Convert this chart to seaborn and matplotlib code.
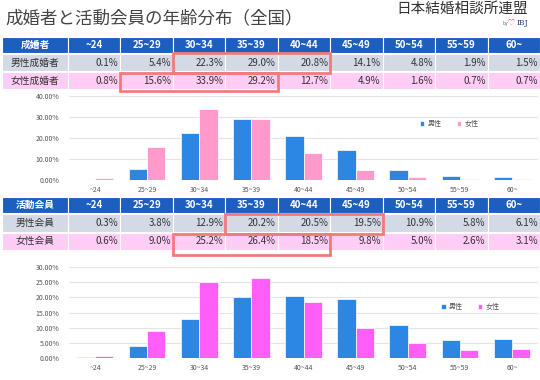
import numpy as np
import pandas as pd
import matplotlib
matplotlib.use("Agg")
import matplotlib.pyplot as plt
from matplotlib.patches import Rectangle
import seaborn as sns

# ============================================================
# DATA
# ============================================================
ages = ["~24", "25~29", "30~34", "35~39", "40~44", "45~49", "50~54", "55~59", "60~"]

marr_male = [0.1, 5.4, 22.3, 29.0, 20.8, 14.1, 4.8, 1.9, 1.5]
marr_female = [0.8, 15.6, 33.9, 29.2, 12.7, 4.9, 1.6, 0.7, 0.7]
act_male = [0.3, 3.8, 12.9, 20.2, 20.5, 19.5, 10.9, 5.8, 6.1]
act_female = [0.6, 9.0, 25.2, 26.4, 18.5, 9.8, 5.0, 2.6, 3.1]

title = "成婚者と活動会員の年齢分布（全国）"
sex_labels = ["男性", "女性"]

# ============================================================
# STYLE
# ============================================================
sns.set_theme(style="white")
plt.rcParams["font.family"] = ["Noto Sans CJK JP", "DejaVu Sans"]

BLUE = "#2b87e3"
PINK1 = "#ff9acb"
PINK2 = "#ff5ef7"
HEAD = "#1d5fbf"
ROW_M = "#d3dae6"
ROW_F = "#ffcdf6"
RED = "#f47a7a"
W, H = 540, 380

fig = plt.figure(figsize=(5.4, 3.8), dpi=100)
over = fig.add_axes([0, 0, 1, 1], zorder=5)
over.set_xlim(0, W)
over.set_ylim(H, 0)
over.axis("off")
over.patch.set_alpha(0)

over.text(5, 18, title, fontsize=12.6, color="#444444", va="center", ha="left")
over.text(528, 9, "日本結婚相談所連盟", fontsize=10.5, color="#333333", va="center", ha="right")
over.text(508, 23, "by", fontsize=3.5, color="#666666", va="center", ha="right")
over.text(514, 23, "♡", fontsize=5, color="#e85a6a", va="center", ha="right")
over.text(528, 23, "IBJ", fontsize=5.5, color="#2b3f8a", va="center", ha="right", family="DejaVu Serif")


# ============================================================
# TABLES
# ============================================================
def draw_table(top, hdr_h, row_h, head_label, m_label, f_label, m_vals, f_vals):
    x0, first_w = 2, 66
    col_w = (W - 68) / len(ages)
    rows = [
        (top, hdr_h, HEAD, [head_label] + ages, "white", "bold"),
        (top + hdr_h + 1, row_h, ROW_M, [m_label] + [f"{v:.1f}%" for v in m_vals], "#333333", "normal"),
        (top + hdr_h + row_h + 2, row_h, ROW_F, [f_label] + [f"{v:.1f}%" for v in f_vals], "#333333", "normal"),
    ]
    for y, h, col, labels, tcol, weight in rows:
        for i, lab in enumerate(labels):
            if i == 0:
                cx, cw = x0, first_w
            else:
                cx, cw = 68 + (i - 1) * col_w, col_w
            over.add_patch(Rectangle((cx, y), cw, h, facecolor=col, edgecolor="white", linewidth=0.8))
            if i == 0 or weight == "bold":
                over.text(cx + cw / 2, y + h / 2, lab, ha="center", va="center",
                          fontsize=7, color=tcol, fontweight=weight)
            else:
                over.text(cx + cw - 2, y + h / 2, lab, ha="right", va="center",
                          fontsize=7, color=tcol)
    return col_w


def red_box(x1, x2, y1, y2):
    over.add_patch(Rectangle((x1, y1), x2 - x1, y2 - y1, facecolor="none",
                             edgecolor=RED, linewidth=2, zorder=6))


cw = draw_table(37, 16, 17, "成婚者", "男性成婚者", "女性成婚者", marr_male, marr_female)
red_box(68 + 2 * cw, 68 + 5 * cw, 53, 73)
red_box(68 + 1 * cw, 68 + 4 * cw, 73, 91)

cw = draw_table(197, 16, 17.5, "活動会員", "男性会員", "女性会員", act_male, act_female)
red_box(68 + 3 * cw, 68 + 6 * cw, 214, 234)
red_box(68 + 2 * cw, 68 + 5 * cw, 234, 255)


# ============================================================
# CHARTS
# ============================================================
def draw_chart(px_top, px_bottom, male, female, female_col, ymax, step, leg_pos):
    ax = fig.add_axes([69 / W, 1 - px_bottom / H, 469 / W, (px_bottom - px_top) / H])
    df = pd.DataFrame({
        "age": ages * 2,
        "pct": male + female,
        "sex": [sex_labels[0]] * len(ages) + [sex_labels[1]] * len(ages),
    })
    sns.barplot(data=df, x="age", y="pct", hue="sex", palette=[BLUE, female_col],
                width=0.7, saturation=1, edgecolor="white", linewidth=0.5, ax=ax)
    ax.set_ylim(0, ymax)
    ax.set_xlim(-0.5, len(ages) - 0.5)
    ticks = np.arange(0, ymax + 0.01, step)
    ax.set_yticks(ticks)
    ax.set_yticklabels([f"{t:.2f}%" for t in ticks])
    ax.yaxis.grid(True, color="#e4e4e4", linewidth=0.8)
    ax.set_axisbelow(True)
    for s in ax.spines.values():
        s.set_visible(False)
    ax.set_xlabel("")
    ax.set_ylabel("")
    ax.tick_params(axis="both", length=0, labelsize=5, colors="#555555", pad=4)
    ax.tick_params(axis="y", pad=7)
    ax.legend(loc="center", bbox_to_anchor=leg_pos, ncol=2, frameon=False,
              fontsize=5, handlelength=0.7, handleheight=0.7, columnspacing=2.2,
              handletextpad=0.4, labelcolor="#555555")
    return ax


draw_chart(96, 180, marr_male, marr_female, PINK1, 40, 10, (0.81, 0.67))
draw_chart(267, 358, act_male, act_female, PINK2, 30, 5, (0.855, 0.56))

fig.savefig("out.png", dpi=100)
